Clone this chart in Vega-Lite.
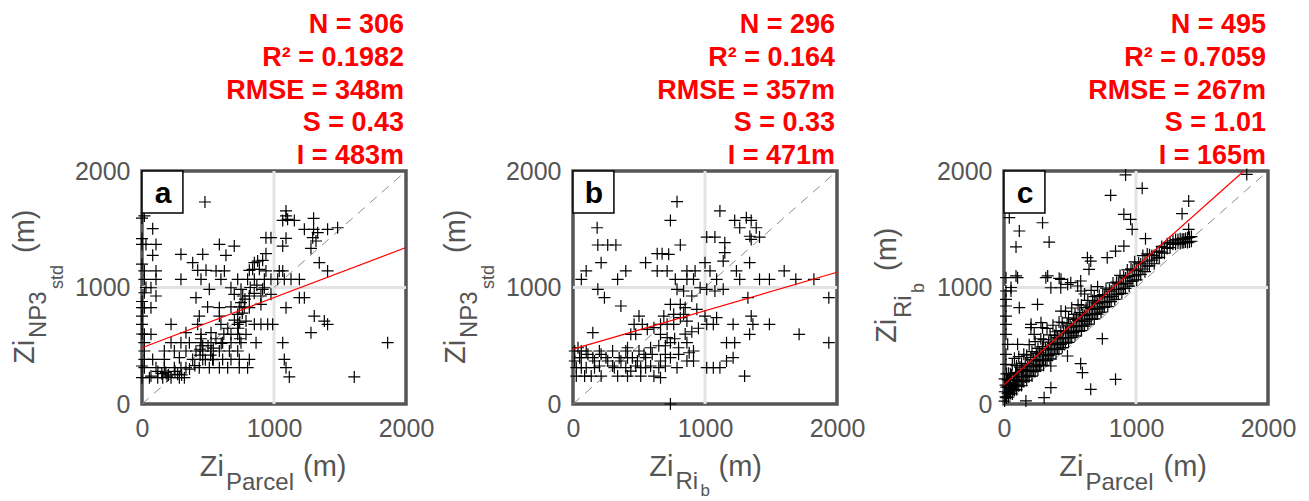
{
"$schema": "https://vega.github.io/schema/vega-lite/v6.json",
"autosize": {"type": "pad"},
"padding": {"left": 9, "top": 9, "right": 5, "bottom": 0},
"background": "white",
"bounds": "flush",
"spacing": 167,
"config": {
  "font": "Liberation Sans",
  "view": {"stroke": "#555555", "strokeWidth": 3.5},
  "axis": {"domain": false, "ticks": false, "tickSize": 0, "grid": false, "labelFont": "Liberation Sans", "labelFontSize": 25, "labelColor": "#555555", "labelPadding": 12, "labelFlush": false, "labelOverlap": false, "labelBound": false}
},
"datasets": {
  "diag": [{"x": 0, "y": 0}, {"x": 2000, "y": 2000}],
  "fitA": [{"x": 0, "y": 483}, {"x": 2000, "y": 1343}],
  "fitB": [{"x": 0, "y": 471}, {"x": 2000, "y": 1131}],
  "fitC": [{"x": 0, "y": 165}, {"x": 1817, "y": 2000}],
  "statsA": [{"lines": ["N = 306", "R² = 0.1982", "RMSE = 348m", "S = 0.43", "I = 483m"]}],
  "statsB": [{"lines": ["N = 296", "R² = 0.164", "RMSE = 357m", "S = 0.33", "I = 471m"]}],
  "statsC": [{"lines": ["N = 495", "R² = 0.7059", "RMSE = 267m", "S = 1.01", "I = 165m"]}],
  "pointsA": [
{"x":477,"y":1734},{"x":1091,"y":1657},{"x":1091,"y":1614},{"x":1066,"y":1576},{"x":1103,"y":1585},{"x":1154,"y":1576},{"x":1300,"y":1594},
{"x":81,"y":1505},{"x":1230,"y":1499},{"x":1300,"y":1499},{"x":1406,"y":1499},{"x":1482,"y":1513},{"x":1331,"y":1471},
{"x":939,"y":1428},{"x":977,"y":1428},{"x":1091,"y":1422},{"x":1293,"y":1428},{"x":1318,"y":1399},
{"x":0,"y":1370},{"x":30,"y":1370},{"x":106,"y":1370},{"x":586,"y":1370},{"x":699,"y":1356},{"x":1066,"y":1356},{"x":1280,"y":1336},
{"x":81,"y":1276},{"x":295,"y":1285},{"x":460,"y":1285},{"x":636,"y":1276},{"x":939,"y":1290},{"x":914,"y":1233},
{"x":384,"y":1213},{"x":851,"y":1213},{"x":876,"y":1227},{"x":1343,"y":1213},
{"x":18,"y":1142},{"x":106,"y":1142},{"x":422,"y":1147},{"x":485,"y":1147},{"x":561,"y":1142},{"x":624,"y":1142},{"x":813,"y":1147},{"x":838,"y":1156},{"x":889,"y":1156},{"x":939,"y":1142},{"x":1040,"y":1142},{"x":1066,"y":1142},{"x":1406,"y":1142},
{"x":18,"y":1070},{"x":106,"y":1070},{"x":295,"y":1070},{"x":447,"y":1070},{"x":598,"y":1070},{"x":725,"y":1070},{"x":800,"y":1070},{"x":851,"y":1070},{"x":927,"y":1070},{"x":977,"y":1070},{"x":1028,"y":1070},{"x":1078,"y":1070},{"x":1129,"y":1070},{"x":1192,"y":1070},
{"x":68,"y":998},{"x":510,"y":984},{"x":674,"y":998},{"x":750,"y":984},{"x":914,"y":984},{"x":927,"y":998},
{"x":106,"y":927},{"x":409,"y":913},{"x":699,"y":941},{"x":763,"y":927},{"x":813,"y":927},{"x":901,"y":927},{"x":1192,"y":913},{"x":1230,"y":913},{"x":977,"y":941},
{"x":18,"y":827},{"x":68,"y":827},{"x":497,"y":833},{"x":586,"y":827},{"x":674,"y":833},{"x":737,"y":833},{"x":775,"y":833},{"x":813,"y":827},{"x":901,"y":855},{"x":1091,"y":827},
{"x":0,"y":755},{"x":434,"y":755},{"x":586,"y":755},{"x":1305,"y":755},{"x":725,"y":770},
{"x":0,"y":684},{"x":220,"y":684},{"x":422,"y":684},{"x":598,"y":684},{"x":725,"y":684},{"x":851,"y":684},{"x":901,"y":684},{"x":952,"y":684},{"x":990,"y":684},{"x":1406,"y":684},{"x":1381,"y":712},{"x":788,"y":712},
{"x":18,"y":598},{"x":68,"y":598},{"x":333,"y":612},{"x":447,"y":598},{"x":523,"y":612},{"x":674,"y":598},{"x":725,"y":598},{"x":788,"y":598},{"x":1280,"y":612},
{"x":18,"y":526},{"x":220,"y":526},{"x":295,"y":526},{"x":359,"y":526},{"x":447,"y":526},{"x":523,"y":526},{"x":611,"y":526},{"x":674,"y":526},{"x":750,"y":526},{"x":864,"y":526},{"x":1066,"y":526},{"x":1861,"y":526},
{"x":18,"y":455},{"x":169,"y":455},{"x":245,"y":455},{"x":333,"y":455},{"x":409,"y":455},{"x":460,"y":455},{"x":523,"y":455},{"x":586,"y":455},{"x":662,"y":455},{"x":725,"y":455},
{"x":18,"y":383},{"x":81,"y":383},{"x":169,"y":383},{"x":283,"y":398},{"x":384,"y":383},{"x":460,"y":383},{"x":535,"y":383},{"x":611,"y":383},{"x":674,"y":383},{"x":737,"y":383},{"x":813,"y":383},{"x":1078,"y":383},
{"x":18,"y":312},{"x":106,"y":312},{"x":169,"y":312},{"x":245,"y":312},{"x":295,"y":312},{"x":333,"y":312},{"x":434,"y":312},{"x":510,"y":312},{"x":586,"y":312},{"x":649,"y":312},{"x":737,"y":312},{"x":800,"y":312},{"x":1091,"y":312},
{"x":0,"y":226},{"x":56,"y":226},{"x":119,"y":226},{"x":157,"y":226},{"x":220,"y":226},{"x":283,"y":226},{"x":321,"y":226},{"x":1116,"y":232},{"x":1608,"y":232},{"x":68,"y":240},{"x":270,"y":255},
{"x":750,"y":870},{"x":780,"y":900},{"x":820,"y":1000},{"x":850,"y":950},{"x":870,"y":1020},{"x":760,"y":780},{"x":700,"y":720},{"x":650,"y":650},{"x":620,"y":600},{"x":560,"y":560},{"x":500,"y":500},{"x":540,"y":480},{"x":600,"y":520},{"x":440,"y":420},{"x":480,"y":380},{"x":400,"y":330},{"x":360,"y":300},{"x":300,"y":250},{"x":200,"y":250},{"x":180,"y":270},{"x":250,"y":280},{"x":447,"y":560},{"x":460,"y":500},{"x":440,"y":470},{"x":730,"y":650},{"x":740,"y":700},{"x":740,"y":560},{"x":520,"y":420},{"x":540,"y":380},{"x":120,"y":280},{"x":150,"y":260},{"x":190,"y":240},
{"x":18,"y":1614},{"x":0,"y":827},{"x":18,"y":955},{"x":30,"y":1000},{"x":0,"y":880},{"x":0,"y":1200},{"x":0,"y":1420},{"x":0,"y":1596},{"x":0,"y":601},{"x":0,"y":326}
  ],
  "pointsB": [
{"x":788,"y":1737},{"x":1113,"y":1657},{"x":738,"y":1576},{"x":183,"y":1513},{"x":1225,"y":1576},{"x":1313,"y":1599},{"x":1350,"y":1576},{"x":1263,"y":1513},{"x":1388,"y":1513},{"x":1350,"y":1413},{"x":1340,"y":1440},{"x":1413,"y":1433},
{"x":188,"y":1365},{"x":263,"y":1365},{"x":325,"y":1365},{"x":1013,"y":1433},{"x":1075,"y":1433},{"x":1150,"y":1385},{"x":1150,"y":1299},{"x":813,"y":1365},{"x":638,"y":1290},{"x":675,"y":1290},{"x":725,"y":1285},
{"x":550,"y":1213},{"x":213,"y":1213},{"x":1000,"y":1213},{"x":1338,"y":1213},{"x":1138,"y":1227},{"x":100,"y":1142},{"x":63,"y":1070},{"x":400,"y":1142},{"x":338,"y":1070},{"x":638,"y":1142},{"x":713,"y":1142},{"x":775,"y":1070},{"x":863,"y":1142},{"x":925,"y":1142},{"x":1038,"y":1142},{"x":1088,"y":1070},{"x":1238,"y":1142},{"x":1263,"y":1070},{"x":1413,"y":1070},{"x":1488,"y":1070},{"x":1600,"y":1142},{"x":1688,"y":1070},{"x":1825,"y":1070},{"x":863,"y":1070},{"x":913,"y":1070},
{"x":963,"y":998},{"x":1013,"y":984},{"x":1075,"y":970},{"x":1138,"y":984},{"x":188,"y":984},{"x":238,"y":913},{"x":363,"y":841},{"x":788,"y":984},{"x":838,"y":970},{"x":900,"y":927},{"x":738,"y":855},{"x":813,"y":855},{"x":763,"y":770},{"x":850,"y":827},{"x":938,"y":813},{"x":1000,"y":755},{"x":1088,"y":741},{"x":1325,"y":913},{"x":1938,"y":913},
{"x":500,"y":755},{"x":1350,"y":755},{"x":1213,"y":684},{"x":1363,"y":684},{"x":1488,"y":684},{"x":1013,"y":684},{"x":1063,"y":684},{"x":838,"y":770},{"x":688,"y":755},{"x":663,"y":684},{"x":713,"y":684},{"x":463,"y":684},{"x":525,"y":684},
{"x":1338,"y":598},{"x":1713,"y":598},{"x":1938,"y":526},{"x":150,"y":612},{"x":1163,"y":526},{"x":1225,"y":526},{"x":1213,"y":398},{"x":1163,"y":369},{"x":1300,"y":240},{"x":1013,"y":312},{"x":1063,"y":312},{"x":1113,"y":312},
{"x":25,"y":240},{"x":88,"y":240},{"x":138,"y":240},{"x":213,"y":240},{"x":338,"y":240},{"x":413,"y":240},{"x":513,"y":240},{"x":613,"y":240},{"x":663,"y":226},{"x":738,"y":0},
{"x":438,"y":598},{"x":475,"y":598},{"x":563,"y":641},{"x":613,"y":655},{"x":663,"y":598},{"x":713,"y":569},{"x":763,"y":684},{"x":813,"y":741},{"x":863,"y":712},{"x":738,"y":526},{"x":800,"y":483},{"x":863,"y":526},{"x":913,"y":455},{"x":588,"y":483},{"x":538,"y":426},{"x":488,"y":369},{"x":413,"y":398},{"x":363,"y":369},{"x":313,"y":312},{"x":263,"y":369},{"x":213,"y":426},{"x":163,"y":369},{"x":113,"y":426},{"x":63,"y":398},{"x":13,"y":369},{"x":413,"y":483},{"x":663,"y":369},{"x":738,"y":398},{"x":788,"y":312},{"x":863,"y":369},{"x":913,"y":369},{"x":588,"y":326},{"x":513,"y":312},{"x":438,"y":283},{"x":163,"y":312},{"x":63,"y":312},
{"x":25,"y":312},{"x":100,"y":312},{"x":200,"y":326},{"x":300,"y":326},{"x":400,"y":312},{"x":475,"y":326},{"x":550,"y":312},{"x":650,"y":312},{"x":700,"y":326},{"x":50,"y":398},{"x":150,"y":398},{"x":250,"y":398},{"x":350,"y":398},{"x":450,"y":398},{"x":550,"y":398},{"x":600,"y":426},{"x":700,"y":426},{"x":800,"y":426},{"x":880,"y":440},{"x":100,"y":455},{"x":200,"y":455},{"x":300,"y":455},{"x":400,"y":455},{"x":500,"y":455},{"x":650,"y":500},{"x":700,"y":500},{"x":770,"y":560},{"x":850,"y":600},{"x":900,"y":620},{"x":950,"y":650},{"x":13,"y":455},{"x":38,"y":483},{"x":63,"y":455}
  ],
  "pointsC": [
{"x":921,"y":1966},{"x":1047,"y":1851},{"x":808,"y":1791},{"x":1839,"y":1971},{"x":1399,"y":1742},{"x":1349,"y":1634},{"x":1399,"y":1499},{"x":908,"y":1628},{"x":959,"y":1585},{"x":971,"y":1499},{"x":1072,"y":1419},
{"x":40,"y":1599},{"x":116,"y":1485},{"x":292,"y":1556},{"x":91,"y":1348},{"x":342,"y":1390},{"x":632,"y":1256},{"x":657,"y":1227},{"x":782,"y":1256},{"x":845,"y":1313},{"x":908,"y":1356},{"x":644,"y":1156},
{"x":317,"y":1084},{"x":418,"y":1079},{"x":15,"y":1084},{"x":103,"y":1084},{"x":355,"y":998},{"x":430,"y":998},{"x":506,"y":1041},{"x":581,"y":1056},{"x":15,"y":970},{"x":53,"y":970},{"x":15,"y":841},{"x":116,"y":827},{"x":254,"y":855},{"x":15,"y":755},{"x":15,"y":684},
{"x":745,"y":561},{"x":581,"y":346},{"x":594,"y":269},{"x":845,"y":212},{"x":657,"y":126},{"x":355,"y":140},{"x":304,"y":54},{"x":166,"y":26},{"x":481,"y":412},{"x":355,"y":326},{"x":204,"y":655},{"x":292,"y":655},{"x":229,"y":598},{"x":103,"y":512},{"x":28,"y":512},{"x":15,"y":598},{"x":15,"y":426},{"x":15,"y":340},
{"x":205,"y":684},{"x":280,"y":698},{"x":432,"y":798},{"x":583,"y":970},{"x":432,"y":1070},{"x":331,"y":1099},{"x":482,"y":1027},{"x":558,"y":1013},{"x":15,"y":898},{"x":53,"y":1000},{"x":91,"y":1099},
{"x":5,"y":25},{"x":5,"y":105},{"x":5,"y":215},{"x":12,"y":62},{"x":12,"y":162},{"x":18,"y":54},{"x":18,"y":144},{"x":18,"y":259},{"x":27,"y":93},{"x":27,"y":208},{"x":33,"y":59},{"x":33,"y":144},{"x":33,"y":264},{"x":41,"y":98},{"x":41,"y":203},{"x":48,"y":90},{"x":48,"y":185},{"x":48,"y":260},{"x":56,"y":128},{"x":56,"y":248},
{"x":63,"y":86},{"x":63,"y":166},{"x":63,"y":336},{"x":71,"y":124},{"x":71,"y":224},{"x":79,"y":117},{"x":79,"y":207},{"x":79,"y":392},{"x":88,"y":157},{"x":88,"y":272},{"x":95,"y":124},{"x":95,"y":209},{"x":95,"y":329},{"x":104,"y":163},{"x":104,"y":268},{"x":112,"y":156},{"x":112,"y":251},{"x":112,"y":406},{"x":121,"y":196},{"x":121,"y":316},
{"x":133,"y":158},{"x":133,"y":238},{"x":133,"y":348},{"x":142,"y":198},{"x":142,"y":298},{"x":150,"y":191},{"x":150,"y":281},{"x":150,"y":426},{"x":161,"y":232},{"x":161,"y":347},{"x":172,"y":204},{"x":172,"y":289},{"x":172,"y":419},{"x":180,"y":242},{"x":180,"y":347},{"x":191,"y":239},{"x":191,"y":334},{"x":191,"y":509},{"x":203,"y":281},{"x":203,"y":401},
{"x":212,"y":240},{"x":212,"y":320},{"x":212,"y":450},{"x":224,"y":283},{"x":224,"y":383},{"x":236,"y":280},{"x":236,"y":370},{"x":236,"y":535},{"x":245,"y":320},{"x":245,"y":435},{"x":257,"y":292},{"x":257,"y":377},{"x":257,"y":477},{"x":268,"y":334},{"x":268,"y":439},{"x":279,"y":330},{"x":279,"y":425},{"x":279,"y":560},{"x":291,"y":373},{"x":291,"y":493},
{"x":300,"y":332},{"x":300,"y":412},{"x":300,"y":552},{"x":314,"y":377},{"x":314,"y":477},{"x":326,"y":374},{"x":326,"y":464},{"x":326,"y":649},{"x":337,"y":415},{"x":337,"y":530},{"x":349,"y":388},{"x":349,"y":473},{"x":349,"y":593},{"x":358,"y":427},{"x":358,"y":532},{"x":371,"y":426},{"x":371,"y":521},{"x":371,"y":676},{"x":383,"y":468},{"x":383,"y":588},
{"x":394,"y":430},{"x":394,"y":510},{"x":394,"y":620},{"x":406,"y":472},{"x":406,"y":572},{"x":417,"y":469},{"x":417,"y":559},{"x":417,"y":704},{"x":430,"y":512},{"x":430,"y":627},{"x":441,"y":484},{"x":441,"y":569},{"x":441,"y":699},{"x":452,"y":525},{"x":452,"y":630},{"x":466,"y":525},{"x":466,"y":620},{"x":466,"y":795},{"x":478,"y":567},{"x":478,"y":687},
{"x":489,"y":529},{"x":489,"y":609},{"x":489,"y":739},{"x":501,"y":571},{"x":501,"y":671},{"x":513,"y":569},{"x":513,"y":659},{"x":513,"y":824},{"x":526,"y":612},{"x":526,"y":727},{"x":538,"y":585},{"x":538,"y":670},{"x":538,"y":770},{"x":549,"y":626},{"x":549,"y":731},{"x":561,"y":623},{"x":561,"y":718},{"x":561,"y":853},{"x":574,"y":667},{"x":574,"y":787},
{"x":586,"y":629},{"x":586,"y":709},{"x":586,"y":849},{"x":597,"y":671},{"x":597,"y":771},{"x":610,"y":669},{"x":610,"y":759},{"x":610,"y":944},{"x":622,"y":712},{"x":622,"y":827},{"x":635,"y":685},{"x":635,"y":770},{"x":635,"y":890},{"x":647,"y":728},{"x":647,"y":833},{"x":660,"y":726},{"x":660,"y":821},{"x":660,"y":976},{"x":671,"y":768},{"x":671,"y":888},
{"x":684,"y":731},{"x":684,"y":811},{"x":684,"y":921},{"x":697,"y":775},{"x":697,"y":875},{"x":709,"y":772},{"x":709,"y":862},{"x":709,"y":1007},{"x":722,"y":816},{"x":722,"y":931},{"x":735,"y":789},{"x":735,"y":874},{"x":748,"y":833},{"x":748,"y":938},{"x":760,"y":830},{"x":760,"y":925},{"x":773,"y":874},{"x":773,"y":994},{"x":786,"y":837},{"x":786,"y":917},
{"x":799,"y":881},{"x":799,"y":981},{"x":812,"y":879},{"x":812,"y":969},{"x":826,"y":924},{"x":826,"y":1039},{"x":839,"y":898},{"x":839,"y":983},{"x":852,"y":941},{"x":852,"y":1046},{"x":866,"y":941},{"x":866,"y":1036},{"x":879,"y":984},{"x":879,"y":1104},{"x":893,"y":949},{"x":893,"y":1029},{"x":906,"y":992},{"x":906,"y":1092},{"x":920,"y":992},{"x":920,"y":1082},
{"x":934,"y":1036},{"x":934,"y":1151},{"x":948,"y":1011},{"x":948,"y":1096},{"x":962,"y":1055},{"x":962,"y":1160},{"x":976,"y":1055},{"x":976,"y":1150},{"x":990,"y":1100},{"x":990,"y":1220},{"x":1005,"y":1065},{"x":1005,"y":1145},{"x":1020,"y":1111},{"x":1020,"y":1211},{"x":1036,"y":1112},{"x":1036,"y":1202},{"x":1052,"y":1159},{"x":1052,"y":1274},{"x":1068,"y":1136},{"x":1068,"y":1221},
{"x":1085,"y":1183},{"x":1085,"y":1288},{"x":1102,"y":1186},{"x":1102,"y":1281},{"x":1120,"y":1235},{"x":1120,"y":1275},{"x":1138,"y":1204},{"x":1138,"y":1274},{"x":1157,"y":1253},{"x":1157,"y":1303},{"x":1176,"y":1258},{"x":1176,"y":1313},{"x":1195,"y":1303},{"x":1195,"y":1353},{"x":1215,"y":1294},{"x":1215,"y":1344},{"x":1236,"y":1335},{"x":1236,"y":1375},{"x":1258,"y":1343},{"x":1258,"y":1388},
{"x":1280,"y":1371},{"x":1280,"y":1401},{"x":1300,"y":1372},{"x":1300,"y":1412},{"x":1318,"y":1381},{"x":1318,"y":1411},{"x":1335,"y":1378},{"x":1335,"y":1418},{"x":1350,"y":1384},{"x":1350,"y":1414},{"x":1362,"y":1386},{"x":1362,"y":1416},{"x":1375,"y":1390},{"x":1375,"y":1420},{"x":1390,"y":1386},{"x":1390,"y":1426},{"x":1405,"y":1391},{"x":1405,"y":1431},{"x":1420,"y":1397},{"x":1420,"y":1437}
  ]
},
"hconcat": [
{
  "width": 264, "height": 233,
  "layer": [
    {"data": {"values": [{"t": "grid"}]}, "mark": {"type": "rule", "stroke": "#e3e3e3", "strokeWidth": 3}, "encoding": {"x": {"datum": 1000, "type": "quantitative"}}},
    {"data": {"values": [{"t": "grid"}]}, "mark": {"type": "rule", "stroke": "#e3e3e3", "strokeWidth": 3}, "encoding": {"y": {"datum": 1000, "type": "quantitative"}}},
    {"data": {"name": "diag"}, "mark": {"type": "line", "stroke": "#8c8c8c", "strokeWidth": 1, "strokeDash": [9, 7]},
     "encoding": {"x": {"field": "x", "type": "quantitative", "scale": {"domain": [0, 2000]}, "axis": {"title": null, "values": [0, 1000, 2000], "format": "d"}},
                  "y": {"field": "y", "type": "quantitative", "scale": {"domain": [0, 2000]}, "axis": {"title": null, "values": [0, 1000, 2000], "format": "d"}}}},
    {"data": {"name": "pointsA"}, "mark": {"type": "point", "shape": "M-1,0H1M0,-1V1", "filled": false, "size": 144, "strokeWidth": 1.2, "color": "black", "opacity": 1},
     "encoding": {"x": {"field": "x", "type": "quantitative"}, "y": {"field": "y", "type": "quantitative"}}},
    {"data": {"name": "fitA"}, "mark": {"type": "line", "stroke": "#ff0000", "strokeWidth": 1.2},
     "encoding": {"x": {"field": "x", "type": "quantitative"}, "y": {"field": "y", "type": "quantitative"}}},
    {"data": {"values": [{"t": "a"}]}, "mark": {"type": "rect", "fill": "white", "stroke": "black", "strokeWidth": 1.5},
     "encoding": {"x": {"datum": 0, "type": "quantitative"}, "x2": {"datum": 310}, "y": {"datum": 2000, "type": "quantitative"}, "y2": {"datum": 1640}}},
    {"data": {"values": [{"t": "a"}]}, "mark": {"type": "text", "fontSize": 30, "fontWeight": "bold", "align": "center", "baseline": "alphabetic", "dx": 21, "dy": 32, "fill": "black"},
     "encoding": {"x": {"datum": 0, "type": "quantitative"}, "y": {"datum": 2000, "type": "quantitative"}, "text": {"field": "t", "type": "nominal"}}},
    {"data": {"name": "statsA"}, "mark": {"type": "text", "fontSize": 27, "fontWeight": "bold", "align": "right", "baseline": "alphabetic", "dx": -2, "dy": -138, "lineHeight": 32.8, "fill": "#ff0000"},
     "encoding": {"x": {"datum": 2000, "type": "quantitative"}, "y": {"datum": 2000, "type": "quantitative"}, "text": {"field": "lines", "type": "nominal"}}},
    {"data": {"values": [{"t": "Zi"}]}, "mark": {"type": "text", "fontSize": 29, "fill": "#555555", "align": "right", "baseline": "alphabetic", "dx": -50, "dy": 72},
     "encoding": {"x": {"datum": 1000, "type": "quantitative"}, "y": {"datum": 0, "type": "quantitative"}, "text": {"field": "t", "type": "nominal"}}},
    {"data": {"values": [{"t": "Parcel"}]}, "mark": {"type": "text", "fontSize": 24, "fill": "#555555", "align": "left", "baseline": "alphabetic", "dx": -48, "dy": 86},
     "encoding": {"x": {"datum": 1000, "type": "quantitative"}, "y": {"datum": 0, "type": "quantitative"}, "text": {"field": "t", "type": "nominal"}}},
    {"data": {"values": [{"t": "(m)"}]}, "mark": {"type": "text", "fontSize": 29, "fill": "#555555", "align": "left", "baseline": "alphabetic", "dx": 29, "dy": 72},
     "encoding": {"x": {"datum": 1000, "type": "quantitative"}, "y": {"datum": 0, "type": "quantitative"}, "text": {"field": "t", "type": "nominal"}}},
    {"data": {"values": [{"t": "Zi"}]}, "mark": {"type": "text", "angle": 270, "fontSize": 29, "fill": "#555555", "align": "left", "baseline": "alphabetic", "dx": -76.5, "dy": -108},
     "encoding": {"x": {"datum": 0, "type": "quantitative"}, "y": {"datum": 1000, "type": "quantitative"}, "text": {"field": "t", "type": "nominal"}}},
    {"data": {"values": [{"t": "NP3"}]}, "mark": {"type": "text", "angle": 270, "fontSize": 24, "fill": "#555555", "align": "left", "baseline": "alphabetic", "dx": -50.5, "dy": -96},
     "encoding": {"x": {"datum": 0, "type": "quantitative"}, "y": {"datum": 1000, "type": "quantitative"}, "text": {"field": "t", "type": "nominal"}}},
    {"data": {"values": [{"t": "std"}]}, "mark": {"type": "text", "angle": 270, "fontSize": 18, "fill": "#555555", "align": "left", "baseline": "alphabetic", "dx": -1.5, "dy": -79},
     "encoding": {"x": {"datum": 0, "type": "quantitative"}, "y": {"datum": 1000, "type": "quantitative"}, "text": {"field": "t", "type": "nominal"}}},
    {"data": {"values": [{"t": "(m)"}]}, "mark": {"type": "text", "angle": 270, "fontSize": 29, "fill": "#555555", "align": "left", "baseline": "alphabetic", "dx": 34.5, "dy": -108},
     "encoding": {"x": {"datum": 0, "type": "quantitative"}, "y": {"datum": 1000, "type": "quantitative"}, "text": {"field": "t", "type": "nominal"}}}
  ]
},
{
  "width": 264, "height": 233,
  "layer": [
    {"data": {"values": [{"t": "grid"}]}, "mark": {"type": "rule", "stroke": "#e3e3e3", "strokeWidth": 3}, "encoding": {"x": {"datum": 1000, "type": "quantitative"}}},
    {"data": {"values": [{"t": "grid"}]}, "mark": {"type": "rule", "stroke": "#e3e3e3", "strokeWidth": 3}, "encoding": {"y": {"datum": 1000, "type": "quantitative"}}},
    {"data": {"name": "diag"}, "mark": {"type": "line", "stroke": "#8c8c8c", "strokeWidth": 1, "strokeDash": [9, 7]},
     "encoding": {"x": {"field": "x", "type": "quantitative", "scale": {"domain": [0, 2000]}, "axis": {"title": null, "values": [0, 1000, 2000], "format": "d"}},
                  "y": {"field": "y", "type": "quantitative", "scale": {"domain": [0, 2000]}, "axis": {"title": null, "values": [0, 1000, 2000], "format": "d"}}}},
    {"data": {"name": "pointsB"}, "mark": {"type": "point", "shape": "M-1,0H1M0,-1V1", "filled": false, "size": 144, "strokeWidth": 1.2, "color": "black", "opacity": 1},
     "encoding": {"x": {"field": "x", "type": "quantitative"}, "y": {"field": "y", "type": "quantitative"}}},
    {"data": {"name": "fitB"}, "mark": {"type": "line", "stroke": "#ff0000", "strokeWidth": 1.2},
     "encoding": {"x": {"field": "x", "type": "quantitative"}, "y": {"field": "y", "type": "quantitative"}}},
    {"data": {"values": [{"t": "b"}]}, "mark": {"type": "rect", "fill": "white", "stroke": "black", "strokeWidth": 1.5},
     "encoding": {"x": {"datum": 0, "type": "quantitative"}, "x2": {"datum": 310}, "y": {"datum": 2000, "type": "quantitative"}, "y2": {"datum": 1640}}},
    {"data": {"values": [{"t": "b"}]}, "mark": {"type": "text", "fontSize": 30, "fontWeight": "bold", "align": "center", "baseline": "alphabetic", "dx": 21, "dy": 32, "fill": "black"},
     "encoding": {"x": {"datum": 0, "type": "quantitative"}, "y": {"datum": 2000, "type": "quantitative"}, "text": {"field": "t", "type": "nominal"}}},
    {"data": {"name": "statsB"}, "mark": {"type": "text", "fontSize": 27, "fontWeight": "bold", "align": "right", "baseline": "alphabetic", "dx": -2, "dy": -138, "lineHeight": 32.8, "fill": "#ff0000"},
     "encoding": {"x": {"datum": 2000, "type": "quantitative"}, "y": {"datum": 2000, "type": "quantitative"}, "text": {"field": "lines", "type": "nominal"}}},
    {"data": {"values": [{"t": "Zi"}]}, "mark": {"type": "text", "fontSize": 29, "fill": "#555555", "align": "right", "baseline": "alphabetic", "dx": -31.5, "dy": 72},
     "encoding": {"x": {"datum": 1000, "type": "quantitative"}, "y": {"datum": 0, "type": "quantitative"}, "text": {"field": "t", "type": "nominal"}}},
    {"data": {"values": [{"t": "Ri"}]}, "mark": {"type": "text", "fontSize": 24, "fill": "#555555", "align": "left", "baseline": "alphabetic", "dx": -29.5, "dy": 85},
     "encoding": {"x": {"datum": 1000, "type": "quantitative"}, "y": {"datum": 0, "type": "quantitative"}, "text": {"field": "t", "type": "nominal"}}},
    {"data": {"values": [{"t": "b"}]}, "mark": {"type": "text", "fontSize": 17, "fill": "#555555", "align": "left", "baseline": "alphabetic", "dx": -4.5, "dy": 92},
     "encoding": {"x": {"datum": 1000, "type": "quantitative"}, "y": {"datum": 0, "type": "quantitative"}, "text": {"field": "t", "type": "nominal"}}},
    {"data": {"values": [{"t": "(m)"}]}, "mark": {"type": "text", "fontSize": 29, "fill": "#555555", "align": "left", "baseline": "alphabetic", "dx": 13.5, "dy": 72},
     "encoding": {"x": {"datum": 1000, "type": "quantitative"}, "y": {"datum": 0, "type": "quantitative"}, "text": {"field": "t", "type": "nominal"}}},
    {"data": {"values": [{"t": "Zi"}]}, "mark": {"type": "text", "angle": 270, "fontSize": 29, "fill": "#555555", "align": "left", "baseline": "alphabetic", "dx": -76.5, "dy": -108},
     "encoding": {"x": {"datum": 0, "type": "quantitative"}, "y": {"datum": 1000, "type": "quantitative"}, "text": {"field": "t", "type": "nominal"}}},
    {"data": {"values": [{"t": "NP3"}]}, "mark": {"type": "text", "angle": 270, "fontSize": 24, "fill": "#555555", "align": "left", "baseline": "alphabetic", "dx": -50.5, "dy": -96},
     "encoding": {"x": {"datum": 0, "type": "quantitative"}, "y": {"datum": 1000, "type": "quantitative"}, "text": {"field": "t", "type": "nominal"}}},
    {"data": {"values": [{"t": "std"}]}, "mark": {"type": "text", "angle": 270, "fontSize": 18, "fill": "#555555", "align": "left", "baseline": "alphabetic", "dx": -1.5, "dy": -79},
     "encoding": {"x": {"datum": 0, "type": "quantitative"}, "y": {"datum": 1000, "type": "quantitative"}, "text": {"field": "t", "type": "nominal"}}},
    {"data": {"values": [{"t": "(m)"}]}, "mark": {"type": "text", "angle": 270, "fontSize": 29, "fill": "#555555", "align": "left", "baseline": "alphabetic", "dx": 34.5, "dy": -108},
     "encoding": {"x": {"datum": 0, "type": "quantitative"}, "y": {"datum": 1000, "type": "quantitative"}, "text": {"field": "t", "type": "nominal"}}}
  ]
},
{
  "width": 264, "height": 233,
  "layer": [
    {"data": {"values": [{"t": "grid"}]}, "mark": {"type": "rule", "stroke": "#e3e3e3", "strokeWidth": 3}, "encoding": {"x": {"datum": 1000, "type": "quantitative"}}},
    {"data": {"values": [{"t": "grid"}]}, "mark": {"type": "rule", "stroke": "#e3e3e3", "strokeWidth": 3}, "encoding": {"y": {"datum": 1000, "type": "quantitative"}}},
    {"data": {"name": "diag"}, "mark": {"type": "line", "stroke": "#8c8c8c", "strokeWidth": 1, "strokeDash": [9, 7]},
     "encoding": {"x": {"field": "x", "type": "quantitative", "scale": {"domain": [0, 2000]}, "axis": {"title": null, "values": [0, 1000, 2000], "format": "d"}},
                  "y": {"field": "y", "type": "quantitative", "scale": {"domain": [0, 2000]}, "axis": {"title": null, "values": [0, 1000, 2000], "format": "d"}}}},
    {"data": {"name": "pointsC"}, "mark": {"type": "point", "shape": "M-1,0H1M0,-1V1", "filled": false, "size": 144, "strokeWidth": 1.2, "color": "black", "opacity": 1},
     "encoding": {"x": {"field": "x", "type": "quantitative"}, "y": {"field": "y", "type": "quantitative"}}},
    {"data": {"name": "fitC"}, "mark": {"type": "line", "stroke": "#ff0000", "strokeWidth": 1.2},
     "encoding": {"x": {"field": "x", "type": "quantitative"}, "y": {"field": "y", "type": "quantitative"}}},
    {"data": {"values": [{"t": "c"}]}, "mark": {"type": "rect", "fill": "white", "stroke": "black", "strokeWidth": 1.5},
     "encoding": {"x": {"datum": 0, "type": "quantitative"}, "x2": {"datum": 310}, "y": {"datum": 2000, "type": "quantitative"}, "y2": {"datum": 1640}}},
    {"data": {"values": [{"t": "c"}]}, "mark": {"type": "text", "fontSize": 30, "fontWeight": "bold", "align": "center", "baseline": "alphabetic", "dx": 21, "dy": 32, "fill": "black"},
     "encoding": {"x": {"datum": 0, "type": "quantitative"}, "y": {"datum": 2000, "type": "quantitative"}, "text": {"field": "t", "type": "nominal"}}},
    {"data": {"name": "statsC"}, "mark": {"type": "text", "fontSize": 27, "fontWeight": "bold", "align": "right", "baseline": "alphabetic", "dx": -2, "dy": -138, "lineHeight": 32.8, "fill": "#ff0000"},
     "encoding": {"x": {"datum": 2000, "type": "quantitative"}, "y": {"datum": 2000, "type": "quantitative"}, "text": {"field": "lines", "type": "nominal"}}},
    {"data": {"values": [{"t": "Zi"}]}, "mark": {"type": "text", "fontSize": 29, "fill": "#555555", "align": "right", "baseline": "alphabetic", "dx": -52.5, "dy": 72},
     "encoding": {"x": {"datum": 1000, "type": "quantitative"}, "y": {"datum": 0, "type": "quantitative"}, "text": {"field": "t", "type": "nominal"}}},
    {"data": {"values": [{"t": "Parcel"}]}, "mark": {"type": "text", "fontSize": 24, "fill": "#555555", "align": "left", "baseline": "alphabetic", "dx": -50.5, "dy": 86},
     "encoding": {"x": {"datum": 1000, "type": "quantitative"}, "y": {"datum": 0, "type": "quantitative"}, "text": {"field": "t", "type": "nominal"}}},
    {"data": {"values": [{"t": "(m)"}]}, "mark": {"type": "text", "fontSize": 29, "fill": "#555555", "align": "left", "baseline": "alphabetic", "dx": 27.5, "dy": 72},
     "encoding": {"x": {"datum": 1000, "type": "quantitative"}, "y": {"datum": 0, "type": "quantitative"}, "text": {"field": "t", "type": "nominal"}}},
    {"data": {"values": [{"t": "Zi"}]}, "mark": {"type": "text", "angle": 270, "fontSize": 29, "fill": "#555555", "align": "left", "baseline": "alphabetic", "dx": -55.5, "dy": -108},
     "encoding": {"x": {"datum": 0, "type": "quantitative"}, "y": {"datum": 1000, "type": "quantitative"}, "text": {"field": "t", "type": "nominal"}}},
    {"data": {"values": [{"t": "Ri"}]}, "mark": {"type": "text", "angle": 270, "fontSize": 24, "fill": "#555555", "align": "left", "baseline": "alphabetic", "dx": -30.5, "dy": -93},
     "encoding": {"x": {"datum": 0, "type": "quantitative"}, "y": {"datum": 1000, "type": "quantitative"}, "text": {"field": "t", "type": "nominal"}}},
    {"data": {"values": [{"t": "b"}]}, "mark": {"type": "text", "angle": 270, "fontSize": 18, "fill": "#555555", "align": "left", "baseline": "alphabetic", "dx": -5.5, "dy": -80},
     "encoding": {"x": {"datum": 0, "type": "quantitative"}, "y": {"datum": 1000, "type": "quantitative"}, "text": {"field": "t", "type": "nominal"}}},
    {"data": {"values": [{"t": "(m)"}]}, "mark": {"type": "text", "angle": 270, "fontSize": 29, "fill": "#555555", "align": "left", "baseline": "alphabetic", "dx": 16.5, "dy": -108},
     "encoding": {"x": {"datum": 0, "type": "quantitative"}, "y": {"datum": 1000, "type": "quantitative"}, "text": {"field": "t", "type": "nominal"}}}
  ]
}
]
}
